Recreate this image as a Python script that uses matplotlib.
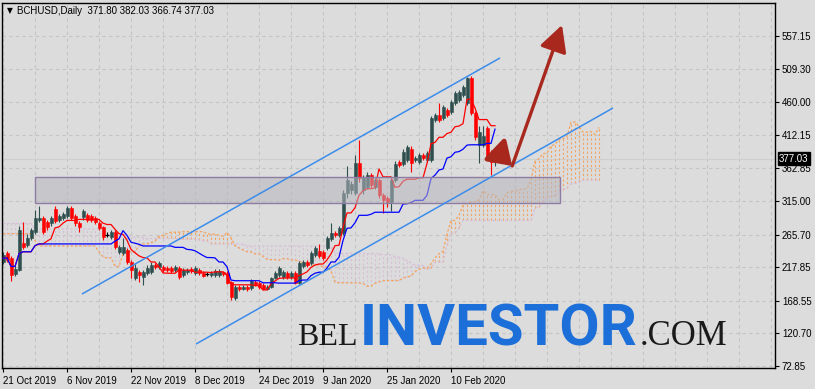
import numpy as np
import pandas as pd
import matplotlib
matplotlib.use("Agg")
import matplotlib.pyplot as plt
from matplotlib.patches import Rectangle, FancyArrowPatch
from matplotlib import transforms

# ---------------- data (BCHUSD daily) ----------------
START = "2019-10-21"
opens = [226, 238, 231, 208, 214, 253, 251, 261, 270, 287,
         290, 284, 283, 303, 287, 290, 293, 305, 293, 283,
         291, 294, 293, 290, 283, 277, 265, 262, 270, 240,
         239, 243, 225, 202, 211, 203, 209, 211, 221, 218,
         218, 217, 217, 214, 217, 206, 211, 215, 209, 214,
         209, 208, 206, 206, 206, 211, 209, 196, 173, 189,
         186, 189, 187, 196, 194, 192, 186, 189, 202, 206,
         204, 209, 203, 209, 195, 220, 225, 224, 236, 241,
         240, 246, 259, 268, 265, 268, 327, 331, 327, 371,
         331, 336, 353, 336, 346, 324, 320, 313, 346, 372,
         370, 375, 392, 375, 372, 382, 375, 375, 434, 441,
         437, 449, 446, 459, 463, 470, 459, 495, 444, 397,
         397, 422, 380, 371.80]
highs = [240, 241, 234, 219, 278, 284, 266, 275, 302, 307,
         293, 287, 293, 307, 296, 299, 307, 307, 296, 286,
         303, 297, 296, 293, 286, 279, 269, 273, 272, 250,
         260, 246, 228, 222, 214, 214, 221, 226, 224, 227,
         221, 219, 219, 221, 220, 217, 216, 218, 219, 216,
         212, 211, 212, 215, 215, 213, 212, 198, 192, 191,
         191, 191, 200, 199, 197, 194, 191, 204, 212, 220,
         214, 212, 212, 212, 227, 229, 228, 242, 249, 252,
         243, 264, 282, 271, 278, 331, 367, 345, 382, 404,
         353, 357, 356, 349, 349, 327, 323, 349, 373, 375,
         391, 397, 395, 381, 385, 385, 388, 440, 444, 459,
         456, 452, 463, 476, 478, 485, 497, 498, 447, 425,
         425, 425, 390, 382.03]
lows = [222, 225, 197, 205, 212, 244, 247, 258, 266, 284,
        266, 272, 279, 283, 284, 287, 290, 287, 279, 269,
        287, 284, 284, 281, 272, 258, 262, 259, 244, 237,
        236, 222, 202, 199, 196, 191, 206, 208, 215, 215,
        211, 211, 209, 211, 200, 203, 208, 209, 206, 206,
        203, 205, 204, 204, 203, 205, 193, 170, 169, 183,
        184, 183, 185, 190, 186, 184, 184, 187, 200, 204,
        201, 200, 201, 193, 193, 217, 218, 221, 233, 231,
        228, 243, 256, 262, 262, 265, 320, 326, 324, 343,
        326, 332, 334, 332, 320, 297, 306, 301, 343, 365,
        367, 372, 358, 372, 369, 375, 372, 372, 431, 431,
        434, 438, 443, 456, 460, 467, 456, 441, 405, 371,
        394, 377, 353, 366.74]
closes = [236, 229, 206, 215, 272, 247, 261, 272, 290, 290,
          270, 277, 290, 286, 293, 296, 305, 290, 283, 277,
          300, 287, 287, 284, 275, 262, 265, 270, 247, 247,
          247, 225, 214, 217, 206, 211, 217, 221, 218, 224,
          214, 214, 212, 218, 203, 214, 214, 212, 217, 209,
          205, 208, 209, 212, 212, 208, 195, 174, 189, 186,
          189, 186, 198, 192, 189, 186, 189, 202, 209, 217,
          211, 203, 209, 195, 224, 225, 221, 239, 246, 234,
          231, 261, 268, 265, 275, 327, 346, 340, 371, 349,
          349, 353, 338, 346, 324, 316, 313, 346, 370, 368,
          387, 394, 371, 378, 382, 378, 385, 437, 441, 434,
          453, 441, 460, 473, 475, 482, 495, 444, 409, 416,
          410, 380, 372, 377.03]
# Ichimoku cloud values at the left edge (their
# inputs lie before the first visible bar)
senkou_a_early = [267, 267, 267, 267, 267, 267, 267, 267, 257, 249,
                  249, 249, 249, 249, 249, 249, 249, 249, 249, 249,
                  249, 249, 249, 249, 240, 233]
senkou_b_early = [282, 282, 282, 282, 282, 282, 282, 282, 274, 274,
                  274, 274, 274, 274, 274, 274, 274, 274, 274, 274,
                  274, 274, 274, 274, 274, 274, 268, 262, 262, 262,
                  262, 262, 262, 262, 262, 262, 260, 260, 260, 260,
                  260, 260, 260, 260, 259, 259, 259, 259, 259, 258,
                  257, 256]
y_ticks = [557.15, 509.30, 460.00, 412.15, 362.85, 315.00, 265.70,
           217.85, 168.55, 120.70, 72.85]
header = "BCHUSD,Daily  371.80 382.03 366.74 377.03"
last_price = 377.03
zone_low, zone_high = 312, 350
zone_start, zone_end = 8, 139.25
channel_upper = [(19.75, 178.5), (124.25, 524.9)]
channel_lower = [(48.25, 105.1), (152.5, 451.5)]
arrow_small = [(123.8, 386.0), (127.3, 366.4)]
arrow_big = [(127.3, 366.4), (139.75, 573.3)]

# ---------------- styles ----------------
W, H = 815, 389
BG = "#DCDCDC"
GRID = "#C4C4C4"
BULL = "#2F4F4F"
BEAR = "#FF0000"
SANDY = "#F4A460"
THISTLE = "#D8BFD8"
CHAN = "#3C8CEB"
ARROW = "#A8281E"
LOGO_BLUE = "#1C6FD8"
FONT = ["Liberation Sans", "DejaVu Sans"]

plt.rcParams["font.family"] = FONT

df = pd.DataFrame({"open": opens, "high": highs, "low": lows, "close": closes},
                  index=pd.date_range(START, periods=len(opens), freq="D"))
n = len(df)
idx = np.arange(n)


def midline(w):
    return ((df["high"].rolling(w, min_periods=1).max()
             + df["low"].rolling(w, min_periods=1).min()) / 2).values


tenkan = midline(9)
kijun = midline(26)
span_a = np.concatenate([senkou_a_early, (tenkan + kijun) / 2])
span_b = np.concatenate([senkou_b_early, midline(52)[26:]])
cloud_x = np.arange(len(span_a))

fig = plt.figure(figsize=(W / 100, H / 100), dpi=100, facecolor=BG)
ax = fig.add_axes([2 / W, 21 / H, 773 / W, 365 / H], facecolor=BG)
ax.set_xlim(-0.25, 193)
ax.set_ylim(72.85 - 2 * 1.4676, 557.15 + 33 * 1.4676)

# grid
for gx in range(0, 194, 8):
    ax.axvline(gx, color=GRID, lw=0.8, ls=(0, (3, 3)), zorder=0)
for gy in y_ticks:
    ax.axhline(gy, color=GRID, lw=0.8, ls=(0, (3, 3)), zorder=0)
ax.axhline(last_price, color="#CFCFCF", lw=0.8, zorder=0.5)

# cloud hatch
lo = np.minimum(span_a, span_b)
hi = np.maximum(span_a, span_b)
hcol = [SANDY if a >= b else THISTLE for a, b in zip(span_a, span_b)]
ax.vlines(cloud_x, lo, hi, colors=hcol, lw=0.8, ls=(0, (2, 2)), zorder=1)
ax.plot(cloud_x, span_a, color=SANDY, lw=0.9, ls=(0, (2, 1.5)), zorder=1.2)
ax.plot(cloud_x, span_b, color=THISTLE, lw=0.9, ls=(0, (2, 1.5)), zorder=1.2)

# candles
o = df["open"].values; c = df["close"].values
h = df["high"].values; l = df["low"].values
doji = np.isclose(o, c)
cols = np.where(doji, "#000000", np.where(c > o, BULL, BEAR))
ax.vlines(idx, l, h, colors=cols, lw=0.8, zorder=2)
body_lo = np.minimum(o, c)
body_h = np.maximum(np.abs(c - o), 1.2)
nd = ~doji
ax.bar(idx[nd], body_h[nd], bottom=body_lo[nd], width=0.75, color=cols[nd],
       edgecolor=cols[nd], lw=0.4, zorder=2.5)
ax.hlines(o[doji], idx[doji] - 0.45, idx[doji] + 0.45, colors="#000000", lw=0.9, zorder=2.5)

# tenkan / kijun
ax.plot(idx, tenkan, color="#FF0000", lw=0.9, zorder=3)
ax.plot(idx, kijun, color="#0000FF", lw=0.9, zorder=3)

# zone box
ax.add_patch(Rectangle((zone_start, zone_low), zone_end - zone_start, zone_high - zone_low,
                       facecolor="#B6B6BE", alpha=0.55, edgecolor="none", zorder=4))
ax.add_patch(Rectangle((zone_start, zone_low), zone_end - zone_start, zone_high - zone_low,
                       facecolor="none", edgecolor="#8E7CA2", lw=1.0, zorder=4.1))

# channel
for seg in (channel_upper, channel_lower):
    (x0, y0), (x1, y1) = seg
    ax.plot([x0, x1], [y0, y1], color=CHAN, lw=1.1, zorder=5, solid_capstyle="butt")

# arrows
ax.add_patch(FancyArrowPatch(arrow_big[0], arrow_big[1],
                             arrowstyle="-|>,head_length=0.8,head_width=0.42",
                             mutation_scale=20, color=ARROW, lw=2.4, zorder=6,
                             shrinkA=0, shrinkB=0))
ax.add_patch(FancyArrowPatch(arrow_small[0], arrow_small[1],
                             arrowstyle="-|>,head_length=0.75,head_width=0.5",
                             mutation_scale=18, color=ARROW, lw=3.4, zorder=6,
                             shrinkA=0, shrinkB=0))

# axes
for s in ax.spines.values():
    s.set_color("black"); s.set_linewidth(1.0)
ax.yaxis.tick_right()
ax.set_yticks(y_ticks)
ax.set_yticklabels([f"{v:.2f}" for v in y_ticks])
xt = list(range(0, n, 16))
ax.set_xticks(xt)
ax.set_xticklabels([f"{d.day} {d.strftime('%b %Y')}" for d in df.index[xt]], ha="left")
ax.tick_params(axis="both", direction="out", length=3, width=0.8, colors="black",
               labelsize=7, pad=2)
ax.tick_params(axis="x", pad=3)

# last price label
tr = transforms.blended_transform_factory(ax.transAxes, ax.transData)
ax.text(1.0 + 4 / 773, last_price, f"{last_price:.2f}", transform=tr, color="white",
        fontsize=7, va="center", ha="left", zorder=10, clip_on=False,
        bbox=dict(boxstyle="square,pad=0.15", fc="black", ec="black"))

# header
fig.text(7 / W, (H - 11) / H, "\u25BC", fontsize=5.5, family=["DejaVu Sans"],
         va="center", ha="left", color="black")
fig.text(17 / W, (H - 11) / H, header, fontsize=7, va="center", ha="left", color="black")

# watermark
renderer = fig.canvas.get_renderer()
base_y = (H - 345) / H
t_inv = fig.text(360 / W, base_y, "INVESTOR", fontsize=44, family=["Roboto", "DejaVu Sans"],
                 weight="bold", color=LOGO_BLUE, ha="left", va="baseline")
bb = t_inv.get_window_extent(renderer)
t_inv.set_fontsize(44 * 278 / bb.width)
t_bel = fig.text(358 / W, base_y, "BEL", fontsize=23, family=["Liberation Serif"],
                 color="#1A1A1A", ha="right", va="baseline")
t_com = fig.text(640 / W, base_y, ".COM", fontsize=25, family=["Liberation Serif"],
                 color="#1A1A1A", ha="left", va="baseline")

fig.savefig("out.png", dpi=100, facecolor=BG)
